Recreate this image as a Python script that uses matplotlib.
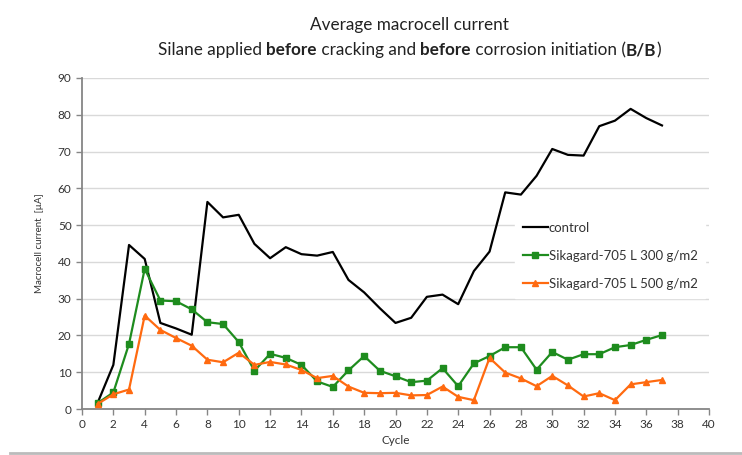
import matplotlib
matplotlib.use('Agg')
import matplotlib.pyplot as plt
from matplotlib.lines import Line2D

cycles = list(range(1, 38))
control = [1.7, 12.0, 44.6, 40.8, 23.4, 21.9, 20.2, 56.3, 52.1, 52.8, 44.9, 41.0, 44.0, 42.1,
           41.7, 42.7, 35.1, 31.7, 27.4, 23.4, 24.8, 30.5, 31.1, 28.5, 37.5, 42.8, 58.9, 58.3,
           63.4, 70.7, 69.1, 68.9, 76.9, 78.4, 81.6, 79.1, 77.1]
sika300 = [1.6, 4.5, 17.7, 38.1, 29.5, 29.3, 27.1, 23.6, 23.1, 18.2, 10.4, 15.0, 13.9, 12.0,
           7.5, 6.0, 10.5, 14.4, 10.4, 8.9, 7.3, 7.7, 11.1, 6.2, 12.4, 14.4, 16.8, 16.8,
           10.7, 15.5, 13.4, 14.9, 14.9, 16.8, 17.4, 18.8, 20.1]
sika500 = [1.4, 4.0, 5.3, 25.4, 21.5, 19.3, 17.2, 13.4, 12.7, 15.3, 12.0, 12.8, 12.1, 10.6,
           8.4, 9.0, 6.1, 4.4, 4.3, 4.4, 3.7, 3.8, 6.1, 3.3, 2.4, 13.9, 9.9, 8.3,
           6.2, 9.0, 6.4, 3.4, 4.3, 2.4, 6.7, 7.3, 7.9]
labels = ['control', 'Sikagard-705 L 300 g/m2', 'Sikagard-705 L 500 g/m2']

plt.rcParams['font.family'] = ['Lato', 'DejaVu Sans']
axis_grey = '#868686'

fig = plt.figure(figsize=(7.42, 4.55), dpi=100)
ax = fig.add_axes([82 / 742, 1 - 409 / 455, 627 / 742, 331 / 455])

ax.plot(cycles, control, color='black', lw=1.6, label=labels[0], zorder=3)
ax.plot(cycles, sika300, color='#1e8c1e', lw=1.6, marker='s', ms=4.5, label=labels[1], zorder=3)
ax.plot(cycles, sika500, color='#ff6a10', lw=1.6, marker='^', ms=4.5, label=labels[2], zorder=3)

ax.set_xlim(0, 40)
ax.set_ylim(0, 90)
ax.set_xticks(range(0, 41, 2))
ax.set_yticks(range(0, 91, 10))
ax.yaxis.grid(True, color='#d9d9d9', lw=1)
ax.set_axisbelow(True)
for s in ['top', 'right']:
    ax.spines[s].set_visible(False)
for s in ['left', 'bottom']:
    ax.spines[s].set_color(axis_grey)
    ax.spines[s].set_linewidth(1.3)
ax.tick_params(colors=axis_grey, labelcolor='#333333', labelsize=8.5, length=4, width=1)
ax.set_xlabel('Cycle', fontsize=8.5, color='#333333', labelpad=3)
ax.set_ylabel('Macrocell current  [µA]', fontsize=7, color='#333333', labelpad=10)

leg = ax.legend(loc='upper left', bbox_to_anchor=(515 / 742, 1 - 214 / 455), bbox_transform=fig.transFigure,
                frameon=True, fontsize=9.5, handlelength=1.9, handletextpad=0.05, labelspacing=1.2,
                borderpad=0.6, borderaxespad=0)
leg.get_frame().set_facecolor('white')
leg.get_frame().set_edgecolor('white')
leg.get_frame().set_alpha(1)
leg.get_frame().set_boxstyle('square', pad=0)
for t in leg.get_texts():
    t.set_color('#333333')

# title, two lines, with bold words
fig.text(409.5 / 742, 1 - 30 / 455, 'Average macrocell current', ha='center', va='baseline', fontsize=12.3, color='#222222')
parts = [('Silane applied ', 'normal'), ('before', 'bold'), (' cracking and ', 'normal'),
         ('before', 'bold'), (' corrosion initiation (', 'normal'), ('B/B', 'bold'), (')', 'normal')]
fig.canvas.draw()
renderer = fig.canvas.get_renderer()
texts = []
for s, w in parts:
    t = fig.text(0, 1 - 55 / 455, s, ha='left', va='baseline', fontsize=12.3, fontweight=w, color='#222222')
    texts.append(t)
widths = [t.get_window_extent(renderer).width for t in texts]
x = 409.5 - sum(widths) / 2
for t, w in zip(texts, widths):
    t.set_x(x / 742)
    x += w

# screenshot frame edge
fig.add_artist(Line2D([10 / 742, 742 / 742], [1 - 453 / 455] * 2, color='#bbbbbb', lw=2, transform=fig.transFigure))

fig.savefig('out.png', dpi=100)
